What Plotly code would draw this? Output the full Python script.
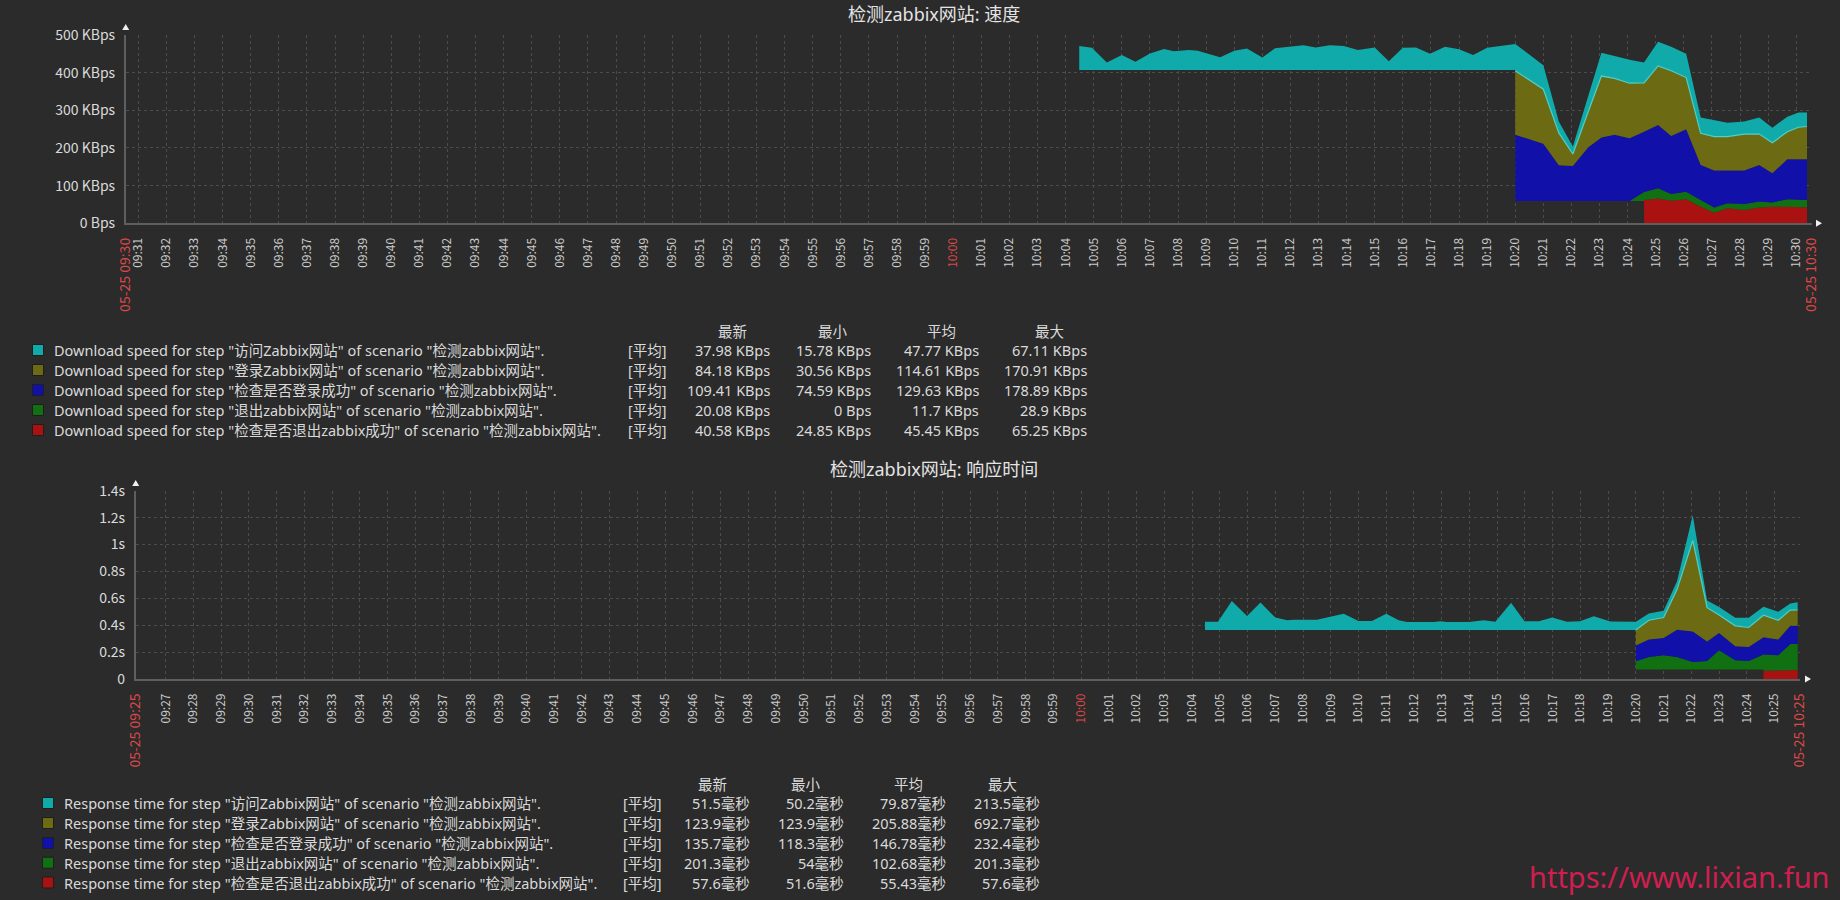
import numpy as np
import plotly.graph_objects as go

DAY = "2019-05-25 "
W, H = 1840, 900

BG = "#2b2b2b"
GRID = "#4c4c4c"
AXIS = "#5e5e5e"
TXT = "#dadada"
RED_TXT = "#dc4848"
FONT = "Noto Sans, Noto Sans CJK SC"
NUMFONT = "Noto Sans CJK SC"

# colours of the five web-scenario steps (legend order)
step_colors = ["#10AAAA", "#6C6B14", "#1111AA", "#117011", "#AA1111"]
EDGE = "#52cfc6"  # light rim zabbix draws under the top (cyan) area

# ---------------- 检测zabbix网站: 速度 (KBps) ----------------
speed_time = [
    "10:04:29", "10:04:56", "10:05:28", "10:06:00", "10:06:29", "10:07:00", "10:07:30", "10:07:51",
    "10:08:23", "10:08:42", "10:09:02", "10:09:30", "10:10:00", "10:10:27", "10:11:00", "10:11:27",
    "10:11:57", "10:12:28", "10:12:54", "10:13:24", "10:13:54", "10:14:24", "10:15:00", "10:15:30",
    "10:16:00", "10:16:28", "10:16:58", "10:17:30", "10:18:00", "10:18:30", "10:19:00", "10:19:32",
    "10:20:00",
    "10:20:00", "10:21:00", "10:21:33", "10:22:03", "10:22:36", "10:23:04", "10:23:32", "10:24:04",
    "10:24:35", "10:24:35", "10:25:05", "10:25:33", "10:26:05", "10:26:36", "10:27:05", "10:27:33",
    "10:28:09", "10:28:41", "10:29:09", "10:29:41", "10:30:05", "10:30:23",
]
# floor that zabbix stacks on while lower items have no data
speed_floor = [407] * 33 + [59] * 9 + [0] * 13
speed_red = [0] * 42 + [62, 66, 60, 64, 44, 28, 40, 35, 42, 44, 44, 42, 42]
speed_green = [0] * 33 + [0, 0, 0, 0, 0, 0, 0, 0, 24, 21, 27, 18, 20, 18, 14, 13, 16, 16, 11, 20, 20, 20]
speed_blue = [0] * 33 + [176, 152, 95, 93, 143, 169, 176, 167, 160, 160, 168, 154, 166, 93, 98, 87,
                         89, 97, 78, 106, 108, 108]
speed_olive = [0] * 33 + [170, 145, 86, 32, 95, 163, 150, 146, 130, 130, 157, 173, 137, 84, 90, 90,
                          97, 82, 81, 73, 85, 87]
speed_cyan = [64, 59, 20, 40, 22, 44, 56, 50, 53, 51, 44, 34, 51, 57, 33, 58, 62, 66, 60, 66, 64, 53,
              60, 23, 59, 60, 43, 62, 55, 40, 59, 65, 69,
              71, 64, 30, 20, 42, 62, 59, 62, 54, 54, 64, 64, 63, 42, 43, 37, 33, 44, 40, 40, 39, 37]

speed_yticks = [0, 100, 200, 300, 400, 500]
speed_ylabels = ["0 Bps", "100 KBps", "200 KBps", "300 KBps", "400 KBps", "500 KBps"]
speed_start, speed_end = "09:30:33", "10:30:33"
speed_start_label, speed_end_label = "05-25 09:30", "05-25 10:30"

speed_names = [
    'Download speed for step "访问Zabbix网站" of scenario "检测zabbix网站".',
    'Download speed for step "登录Zabbix网站" of scenario "检测zabbix网站".',
    'Download speed for step "检查是否登录成功" of scenario "检测zabbix网站".',
    'Download speed for step "退出zabbix网站" of scenario "检测zabbix网站".',
    'Download speed for step "检查是否退出zabbix成功" of scenario "检测zabbix网站".',
]
speed_last = ["37.98 KBps", "84.18 KBps", "109.41 KBps", "20.08 KBps", "40.58 KBps"]
speed_min = ["15.78 KBps", "30.56 KBps", "74.59 KBps", "0 Bps", "24.85 KBps"]
speed_avg = ["47.77 KBps", "114.61 KBps", "129.63 KBps", "11.7 KBps", "45.45 KBps"]
speed_max = ["67.11 KBps", "170.91 KBps", "178.89 KBps", "28.9 KBps", "65.25 KBps"]

# ---------------- 检测zabbix网站: 响应时间 (ms) ----------------
resp_time = [
    "10:04:28", "10:04:56", "10:05:26", "10:05:59", "10:06:28", "10:07:00", "10:07:26", "10:07:40",
    "10:08:30", "10:08:59", "10:09:28", "10:10:00", "10:10:29", "10:11:00", "10:11:27", "10:11:45",
    "10:12:43", "10:12:57", "10:13:11", "10:13:59", "10:14:31", "10:14:56", "10:15:30", "10:15:59",
    "10:16:30", "10:16:59", "10:17:31", "10:17:59", "10:18:29", "10:19:05", "10:20:00",
    "10:20:00", "10:20:28", "10:21:00", "10:21:29", "10:22:03", "10:22:34", "10:23:00", "10:23:35",
    "10:24:04", "10:24:36", "10:24:36", "10:25:08", "10:25:34", "10:25:50",
]
resp_floor = [364] * 31 + [71] * 10 + [0] * 4
resp_red = [0] * 41 + [62, 62, 66, 66]
resp_green = [0] * 31 + [61, 93, 105, 93, 56, 63, 142, 68, 63, 112, 121, 114, 195, 195]
resp_blue = [0] * 31 + [117, 129, 129, 203, 227, 144, 129, 105, 103, 127, 127, 117, 134, 135]
resp_olive = [0] * 31 + [115, 144, 152, 298, 676, 252, 134, 151, 146, 164, 164, 144, 117, 117]
resp_cyan = [61, 61, 215, 105, 205, 93, 73, 76, 76, 98, 122, 68, 68, 122, 73, 59, 59, 66, 59, 59,
             73, 61, 203, 66, 66, 93, 61, 66, 103, 63, 61,
             61, 50, 50, 61, 188, 54, 59, 61, 73, 63, 63, 63, 50, 58]

resp_yticks = [0, 200, 400, 600, 800, 1000, 1200, 1400]
resp_ylabels = ["0", "0.2s", "0.4s", "0.6s", "0.8s", "1s", "1.2s", "1.4s"]
resp_start, resp_end = "09:25:55", "10:25:55"
resp_start_label, resp_end_label = "05-25 09:25", "05-25 10:25"

resp_names = [
    'Response time for step "访问Zabbix网站" of scenario "检测zabbix网站".',
    'Response time for step "登录Zabbix网站" of scenario "检测zabbix网站".',
    'Response time for step "检查是否登录成功" of scenario "检测zabbix网站".',
    'Response time for step "退出zabbix网站" of scenario "检测zabbix网站".',
    'Response time for step "检查是否退出zabbix成功" of scenario "检测zabbix网站".',
]
resp_last = ["51.5毫秒", "123.9毫秒", "135.7毫秒", "201.3毫秒", "57.6毫秒"]
resp_min = ["50.2毫秒", "123.9毫秒", "118.3毫秒", "54毫秒", "51.6毫秒"]
resp_avg = ["79.87毫秒", "205.88毫秒", "146.78毫秒", "102.68毫秒", "55.43毫秒"]
resp_max = ["213.5毫秒", "692.7毫秒", "232.4毫秒", "201.3毫秒", "57.6毫秒"]

col_heads = ["最新", "最小", "平均", "最大"]


def px(x):
    return x / W


def py(y):
    return 1 - y / H


def red(s, size=14):
    return f'<span style="color:{RED_TXT};font-size:{size}px">{s}</span>'


def minute_labels(h0, m0, count):
    out = []
    for i in range(count):
        t = h0 * 60 + m0 + i
        out.append(f"{t // 60:02d}:{t % 60:02d}")
    return out


def add_stack(fig, times, floor, layers, xa, ya):
    x = [DAY + t for t in times]
    level = np.array(floor, dtype=float)
    fig.add_trace(go.Scatter(x=x, y=level, mode="lines", line=dict(width=0),
                             hoverinfo="skip", showlegend=False, xaxis=xa, yaxis=ya))
    # stack bottom-up: red, green, blue, olive, cyan
    for vals, col in layers:
        prev = level
        level = level + np.array(vals, dtype=float)
        fig.add_trace(go.Scatter(x=x, y=level, mode="lines", line=dict(width=0),
                                 fill="tonexty", fillcolor=col, hoverinfo="skip",
                                 showlegend=False, xaxis=xa, yaxis=ya))
    # thin light rim under the cyan area where lower steps exist
    olive = np.array(layers[3][0], dtype=float)
    rim = [v if o > 0 else None for v, o in zip(prev, olive)]
    fig.add_trace(go.Scatter(x=x, y=rim, mode="lines", line=dict(width=1.2, color=EDGE),
                             hoverinfo="skip", showlegend=False, xaxis=xa, yaxis=ya))


fig = go.Figure()
add_stack(fig, speed_time, speed_floor,
          [(speed_red, step_colors[4]), (speed_green, step_colors[3]), (speed_blue, step_colors[2]),
           (speed_olive, step_colors[1]), (speed_cyan, step_colors[0])], "x", "y")
add_stack(fig, resp_time, resp_floor,
          [(resp_red, step_colors[4]), (resp_green, step_colors[3]), (resp_blue, step_colors[2]),
           (resp_olive, step_colors[1]), (resp_cyan, step_colors[0])], "x2", "y2")

# x ticks: one per minute plus the red period start / end stamps
speed_minutes = minute_labels(9, 31, 60)
resp_minutes = minute_labels(9, 27, 59)


def x_ticks(start, start_lbl, minutes, end, end_lbl):
    vals = [DAY + start] + [DAY + m + ":00" for m in minutes] + [DAY + end]
    text = [red(start_lbl)] + [red(m, 12) if m == "10:00" else m for m in minutes] + [red(end_lbl)]
    return vals, text


sx_vals, sx_text = x_ticks(speed_start, speed_start_label, speed_minutes, speed_end, speed_end_label)
rx_vals, rx_text = x_ticks(resp_start, resp_start_label, resp_minutes, resp_end, resp_end_label)

xcommon = dict(type="date", showgrid=True, gridcolor=GRID, griddash="dot", gridwidth=1,
               showline=True, linecolor=AXIS, linewidth=1.5, zeroline=False, ticks="",
               tickmode="array", tickangle=-90, ticklabelstandoff=8, automargin=False,
               tickfont=dict(family=NUMFONT, size=12, color="#cccccc"))
ycommon = dict(showgrid=True, gridcolor=GRID, griddash="dot", gridwidth=1,
               showline=True, linecolor=AXIS, linewidth=1.5, zeroline=False, ticks="",
               tickmode="array", ticklabelstandoff=6, automargin=False,
               tickfont=dict(family=NUMFONT, size=14, color=TXT))

fig.update_layout(
    xaxis=dict(xcommon, domain=[px(125.7), px(1811.7)], range=[DAY + speed_start, DAY + speed_end],
               tickvals=sx_vals, ticktext=sx_text, anchor="y"),
    yaxis=dict(ycommon, domain=[py(223.3), py(35)], range=[0, 500],
               tickvals=speed_yticks, ticktext=speed_ylabels, anchor="x"),
    xaxis2=dict(xcommon, domain=[px(135.7), px(1800)], range=[DAY + resp_start, DAY + resp_end],
                tickvals=rx_vals, ticktext=rx_text, anchor="y2"),
    yaxis2=dict(ycommon, domain=[py(679), py(490.7)], range=[0, 1400],
                tickvals=resp_yticks, ticktext=resp_ylabels, anchor="x2"),
)

shapes = []
annotations = []

# axis arrows
for ax_x, top_y, end_x, ax_y in [(125.7, 24, 1822, 223.3), (135.7, 480, 1811, 679)]:
    shapes.append(dict(type="path", xref="paper", yref="paper", fillcolor="#f0f0f0", line=dict(width=0),
                       path=f"M {px(ax_x - 3.5)} {py(top_y + 6)} L {px(ax_x + 3.5)} {py(top_y + 6)} "
                            f"L {px(ax_x)} {py(top_y)} Z"))
    shapes.append(dict(type="path", xref="paper", yref="paper", fillcolor="#f0f0f0", line=dict(width=0),
                       path=f"M {px(end_x - 6)} {py(ax_y - 3.5)} L {px(end_x - 6)} {py(ax_y + 3.5)} "
                            f"L {px(end_x)} {py(ax_y)} Z"))

# titles
for title, ty in [("检测zabbix网站: 速度", 14), ("检测zabbix网站: 响应时间", 469)]:
    annotations.append(dict(text=title, x=px(934), y=py(ty), xref="paper", yref="paper",
                            xanchor="center", yanchor="middle", showarrow=False,
                            font=dict(family=FONT, size=18, color="#e4e4e4")))


def add_legend(names, cols, sq_x, txt_x, rows_y, head_y, tag_x, right_edges):
    for i, name in enumerate(names):
        y = rows_y[i]
        shapes.append(dict(type="rect", xref="paper", yref="paper",
                           x0=px(sq_x - 5.5), x1=px(sq_x + 5.5), y0=py(y - 5.5), y1=py(y + 5.5),
                           fillcolor=step_colors[i], line=dict(color="#1e1e1e", width=1)))
        annotations.append(dict(text=name, x=px(txt_x), y=py(y), xref="paper", yref="paper",
                                xanchor="left", yanchor="middle", showarrow=False,
                                font=dict(family=FONT, size=14.5, color=TXT)))
        annotations.append(dict(text="[平均]", x=px(tag_x), y=py(y), xref="paper", yref="paper",
                                xanchor="center", yanchor="middle", showarrow=False,
                                font=dict(family=FONT, size=14.5, color=TXT)))
        for col, rx in zip(cols, right_edges):
            annotations.append(dict(text=col[i], x=px(rx), y=py(y), xref="paper", yref="paper",
                                    xanchor="right", yanchor="middle", showarrow=False,
                                    font=dict(family=FONT, size=14.5, color=TXT)))
    for head, rx in zip(col_heads, right_edges):
        annotations.append(dict(text=head, x=px(rx - 40), y=py(head_y), xref="paper", yref="paper",
                                xanchor="center", yanchor="middle", showarrow=False,
                                font=dict(family=FONT, size=14.5, color=TXT)))


add_legend(speed_names, [speed_last, speed_min, speed_avg, speed_max], 38, 52,
           [350, 370, 390, 410, 430], 330.7, 647.5, [772, 873, 981, 1089])
add_legend(resp_names, [resp_last, resp_min, resp_avg, resp_max], 48, 62,
           [803, 823, 843, 862.7, 882.5], 784, 642.5, [752, 846, 948, 1042])

annotations.append(dict(text="https://www.lixian.fun", x=px(1832), y=py(876), xref="paper", yref="paper",
                        xanchor="right", yanchor="middle", showarrow=False,
                        font=dict(family="Noto Sans", size=29, color="#d01e50")))

fig.update_layout(
    template="none",
    width=W, height=H,
    margin=dict(l=0, r=0, t=0, b=0),
    paper_bgcolor=BG, plot_bgcolor=BG,
    showlegend=False,
    hovermode=False,
    shapes=shapes,
    annotations=annotations,
)

fig.write_html("out.html", config={"displayModeBar": False},
               post_script="document.body.style.margin='0';document.body.style.background='#2b2b2b';")
